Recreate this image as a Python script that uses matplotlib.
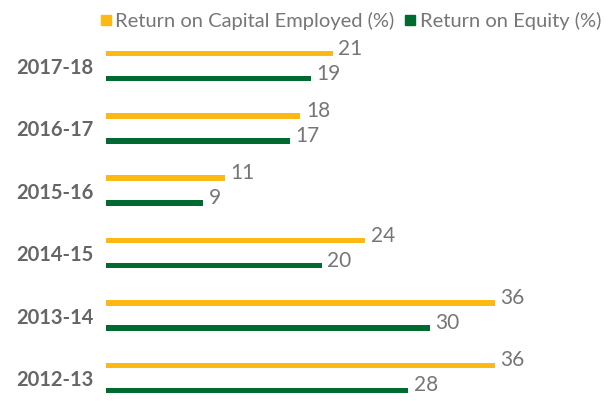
import numpy as np
import matplotlib
matplotlib.use("Agg")
from matplotlib import pyplot as plt
from matplotlib.lines import Line2D

# data (top to bottom in the picture)
years = ['2017-18', '2016-17', '2015-16', '2014-15', '2013-14', '2012-13']
roce = [21, 18, 11, 24, 36, 36]
roe = [19, 17, 9, 20, 30, 28]

yellow = '#FDB913'
green = '#006A30'
grey = '#767676'

plt.rcParams['font.family'] = ['Lato', 'DejaVu Sans']

fig = plt.figure(figsize=(6.13, 4.01), dpi=100)
ax = fig.add_axes([106/613, 0, 432/613, 0.9287])

pos = np.arange(len(years))[::-1]
ax.barh(pos + 0.2, roce, height=0.09, color=yellow)
ax.barh(pos - 0.2, roe, height=0.09, color=green)

for p, a, b in zip(pos, roce, roe):
    ax.text(a + 0.5, p + 0.28, str(a), va='center', ha='left', fontsize=15, color=grey)
    ax.text(b + 0.5, p - 0.12, str(b), va='center', ha='left', fontsize=15, color=grey)

ax.set_xlim(0, 40)
ax.set_ylim(-0.37, 5.6)
ax.set_yticks(pos)
ax.set_yticklabels(years, fontsize=14.5, fontweight='bold', color='#666666')
ax.tick_params(axis='y', length=0, pad=9)
ax.set_xticks([])
for s in ax.spines.values():
    s.set_visible(False)

handles = [Line2D([], [], marker='s', ls='', color=yellow, markersize=6.5),
           Line2D([], [], marker='s', ls='', color=green, markersize=6.5)]
fig.legend(handles, ['Return on Capital Employed (%)', 'Return on Equity (%)'],
           loc='upper right', bbox_to_anchor=(1.0, 1.0), ncol=2, frameon=False,
           fontsize=14.5, labelcolor=grey, handlelength=0.6, handletextpad=0.15,
           columnspacing=0.5, borderaxespad=0.2)

fig.savefig('out.png', dpi=100)
